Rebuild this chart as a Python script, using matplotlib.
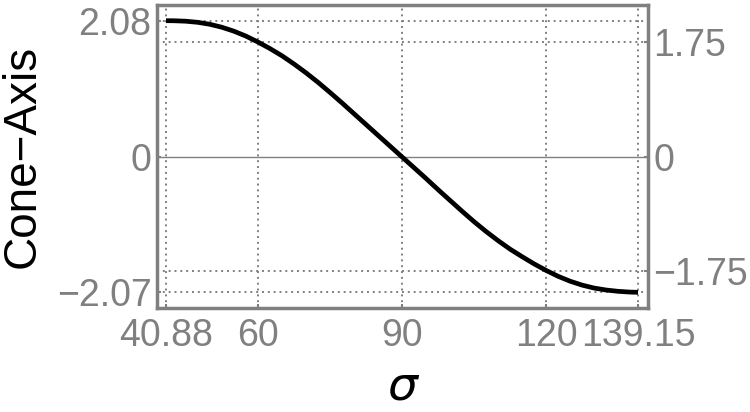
import matplotlib
matplotlib.use("Agg")
import matplotlib.pyplot as plt

sigma = [40.88, 42.5, 45, 47.5, 50, 52.5, 55, 57.5, 60, 62.5, 65, 67.5, 70, 72.5,
         75, 77.5, 80, 82.5, 85, 87.5, 90, 92.5, 95, 97.5, 100, 102.5, 105, 107.5,
         110, 112.5, 115, 117.5, 120, 122.5, 125, 127.5, 130, 132.5, 135, 137.5, 139.15]
cone_axis = [2.08, 2.079, 2.072, 2.055, 2.025, 1.98, 1.92, 1.845, 1.755, 1.655, 1.545, 1.42, 1.285, 1.14,
             0.985, 0.825, 0.66, 0.495, 0.33, 0.165, 0.0, -0.165, -0.33, -0.50, -0.665, -0.83, -0.99, -1.14,
             -1.28, -1.41, -1.525, -1.635, -1.735, -1.825, -1.90, -1.96, -2.005, -2.035, -2.055, -2.067, -2.07]

x_ticks = [40.88, 60, 90, 120, 139.15]
x_tick_labels = ["40.88", "60", "90", "120", "139.15"]
left_ticks = [-2.07, 0, 2.08]
left_tick_labels = ["\u22122.07", "0", "2.08"]
right_ticks = [-1.75, 0, 1.75]
right_tick_labels = ["\u22121.75", "0", "1.75"]

plt.rcParams['font.family'] = ['Liberation Sans', 'DejaVu Sans']
gray = "#808080"

fig = plt.figure(figsize=(7.5, 4.12), dpi=100)
ax = fig.add_axes([0.2093, 0.2524, 0.864 - 0.2093, 0.9879 - 0.2524])
ax.set_xlim(39.0, 141.23)
ax.set_ylim(-2.31, 2.32)

for xv in x_ticks:
    ax.axvline(xv, color=gray, lw=1.4, ls=(0, (1, 2)), zorder=1)
for yv in [2.08, 1.75, -1.75, -2.07]:
    ax.axhline(yv, color=gray, lw=1.4, ls=(0, (1, 2)), zorder=1)
ax.axhline(0, color=gray, lw=1.0, zorder=1)

ax.plot(sigma, cone_axis, color="black", lw=3.4, zorder=3, solid_capstyle="butt")

for s in ax.spines.values():
    s.set_color(gray)
    s.set_linewidth(2.5)

ax.set_xticks(x_ticks)
ax.set_xticklabels(x_tick_labels)
ax.set_yticks(left_ticks)
ax.set_yticklabels(left_tick_labels)
ax.tick_params(axis="both", colors=gray, labelsize=27, direction="in", length=3, width=1.5)
ax.tick_params(axis="x", pad=7)
ax.tick_params(axis="y", pad=4)

ax2 = ax.twinx()
ax2.set_ylim(ax.get_ylim())
ax2.set_yticks(right_ticks)
ax2.set_yticklabels(right_tick_labels)
ax2.tick_params(axis="y", colors=gray, labelsize=27, direction="in", length=3, width=1.5, pad=4)
for s in ax2.spines.values():
    s.set_visible(False)

ax.set_ylabel("Cone\u2212Axis", fontsize=33, color="black")
ax.yaxis.set_label_coords(-0.228, 0.5)
ax.set_xlabel("\u03c3", fontsize=34, color="black", style="italic", family=["DejaVu Sans"])
ax.xaxis.set_label_coords(0.5, -0.185)

fig.savefig("out.png", dpi=100)
